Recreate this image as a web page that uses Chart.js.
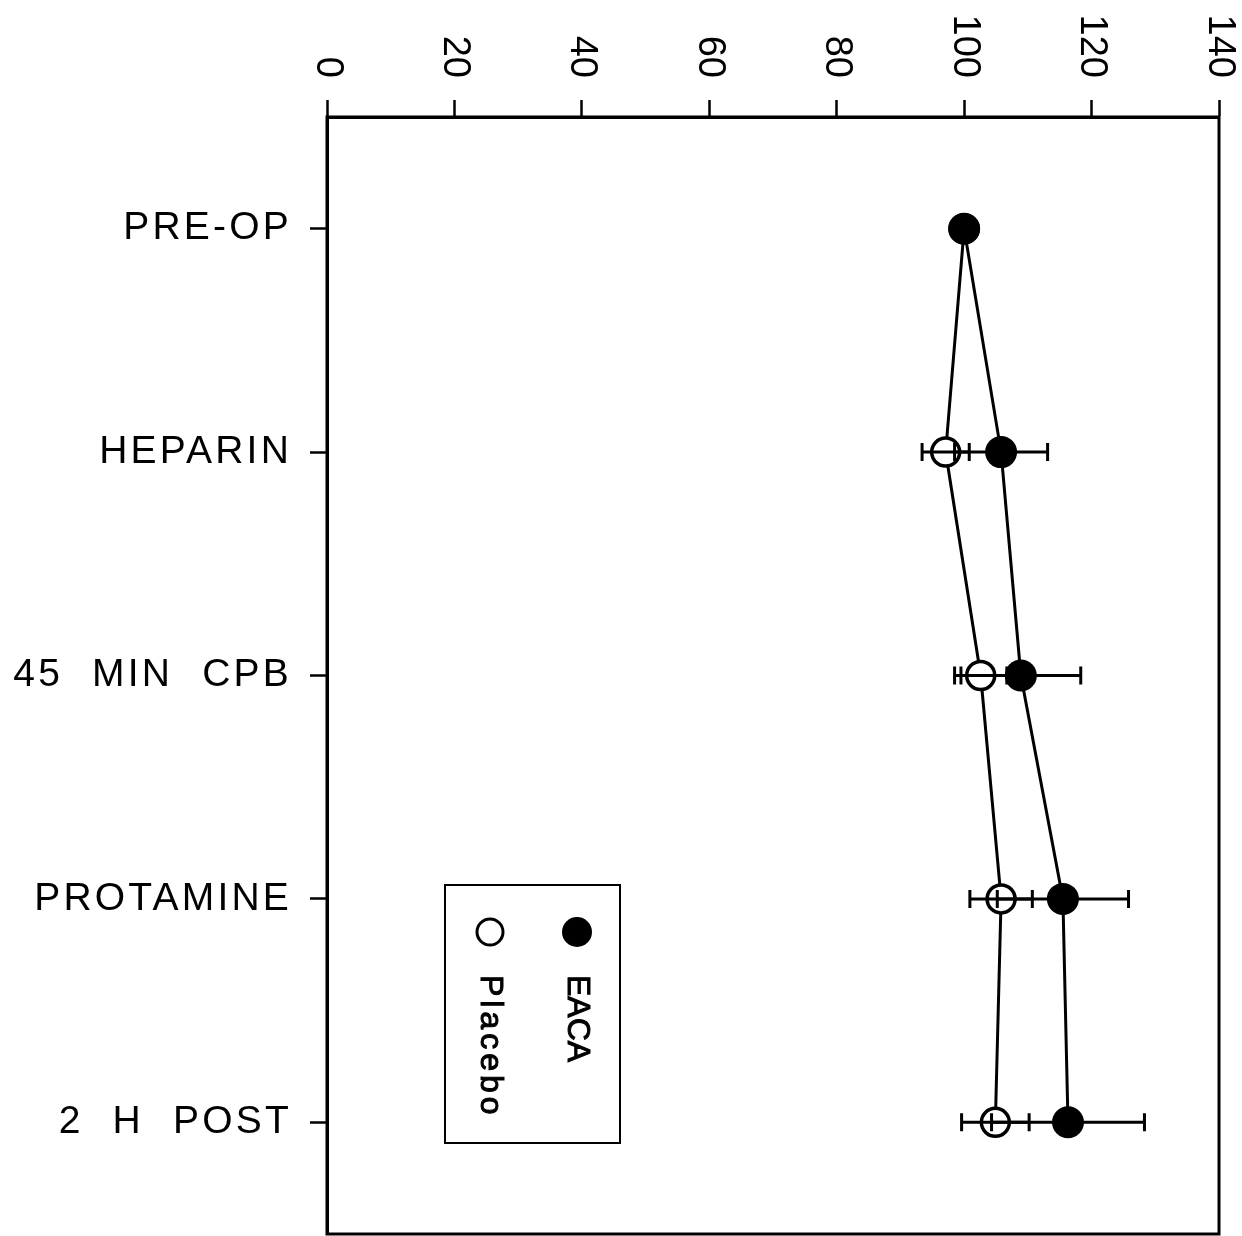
<!DOCTYPE html>
<html>
<head>
<meta charset="utf-8">
<script src="https://cdn.jsdelivr.net/npm/chart.js@4.4.1/dist/chart.umd.min.js"></script>
<style>
  body { margin: 0; background: #fff; }
  #wrap { width: 1242px; height: 1236px; }
</style>
</head>
<body>
<div id="wrap"><canvas id="grafico"></canvas></div>
<script>
// dados
const categorias = ['PRE-OP', 'HEPARIN', '45 MIN CPB', 'PROTAMINE', '2 H POST'];
const eacaMedia = [100, 105.8, 108.9, 115.5, 116.3];
const eacaErro = [0, 7.3, 9.4, 10.3, 12.0];
const placeboMedia = [100, 97.1, 102.6, 105.8, 104.9];
const placeboErro = [0, 3.7, 4.1, 4.9, 5.3];
const ticksX = [0, 20, 40, 60, 80, 100, 120, 140];

const fonte = '"Liberation Sans", Arial, sans-serif';

// barras de erro horizontais
const barrasErro = {
  id: 'barrasErro',
  afterDatasetsDraw(chart) {
    const ctx = chart.ctx;
    const x = chart.scales.x, y = chart.scales.y;
    const series = [[eacaMedia, eacaErro], [placeboMedia, placeboErro]];
    ctx.save();
    ctx.strokeStyle = '#000';
    ctx.lineWidth = 3;
    series.forEach(([media, erro]) => {
      media.forEach((m, i) => {
        if (!erro[i]) return;
        const x1 = x.getPixelForValue(m - erro[i]);
        const x2 = x.getPixelForValue(m + erro[i]);
        const py = y.getPixelForValue(i);
        ctx.beginPath();
        ctx.moveTo(x1, py); ctx.lineTo(x2, py);
        ctx.moveTo(x1, py - 9); ctx.lineTo(x1, py + 9);
        ctx.moveTo(x2, py - 9); ctx.lineTo(x2, py + 9);
        ctx.stroke();
      });
    });
    ctx.restore();
  }
};

// espaçamento das letras como no original
const espacamento = {
  id: 'espacamento',
  beforeDraw(chart) {
    chart.ctx.letterSpacing = '3.2px';
    chart.ctx.wordSpacing = '15px';
  }
};

// moldura, rótulos girados do eixo de cima e legenda
const extras = {
  id: 'extras',
  afterDraw(chart) {
    const ctx = chart.ctx;
    const a = chart.chartArea;
    const x = chart.scales.x;
    ctx.save();
    ctx.letterSpacing = '0px';
    ctx.wordSpacing = '0px';
    ctx.strokeStyle = '#000';
    ctx.lineWidth = 3;
    ctx.strokeRect(a.left, a.top, a.right - a.left, a.bottom - a.top);

    ctx.fillStyle = '#000';
    ctx.font = '38px ' + fonte;
    ticksX.forEach(v => {
      ctx.save();
      ctx.translate(x.getPixelForValue(v), 78);
      ctx.rotate(Math.PI / 2);
      ctx.textAlign = 'right';
      ctx.textBaseline = 'middle';
      ctx.fillText(String(v), 0, 0);
      ctx.restore();
    });

    // legenda
    const lx = a.left + 118, ly = a.top + 768;
    ctx.lineWidth = 2;
    ctx.strokeRect(lx, ly, 175, 258);
    ctx.beginPath();
    ctx.arc(lx + 132, ly + 47, 15, 0, Math.PI * 2);
    ctx.fill();
    ctx.beginPath();
    ctx.lineWidth = 3;
    ctx.arc(lx + 45, ly + 47, 13, 0, Math.PI * 2);
    ctx.stroke();
    ctx.font = '32px ' + fonte;
    ctx.lineWidth = 1;
    [['EACA', lx + 132, '0px'], ['Placebo', lx + 45, '4px']].forEach(([t, px, ls]) => {
      ctx.save();
      ctx.letterSpacing = ls;
      ctx.translate(px, ly + 90);
      ctx.rotate(Math.PI / 2);
      ctx.textAlign = 'left';
      ctx.textBaseline = 'middle';
      ctx.fillText(t, 0, 0);
      ctx.strokeText(t, 0, 0);
      ctx.restore();
    });
    ctx.restore();
  }
};

new Chart(document.getElementById('grafico'), {
  type: 'line',
  data: {
    labels: categorias,
    datasets: [{
      label: 'EACA',
      data: eacaMedia,
      borderColor: '#000',
      borderWidth: 3,
      pointRadius: 16,
      pointBackgroundColor: '#000',
      pointBorderColor: '#000',
      pointBorderWidth: 0
    }, {
      label: 'Placebo',
      data: placeboMedia,
      borderColor: '#000',
      borderWidth: 3,
      pointRadius: 14,
      pointBackgroundColor: '#fff',
      pointBorderColor: '#000',
      pointBorderWidth: 3.5
    }]
  },
  options: {
    indexAxis: 'y',
    responsive: true,
    maintainAspectRatio: false,
    animation: false,
    layout: { autoPadding: false, padding: { left: 0, right: 23, top: 0, bottom: 2 } },
    plugins: { legend: { display: false }, tooltip: { enabled: false } },
    scales: {
      x: {
        type: 'linear',
        position: 'top',
        min: 0,
        max: 140,
        ticks: { stepSize: 20, display: false },
        grid: { drawOnChartArea: false, tickLength: 17, tickWidth: 2.5, tickColor: '#000' },
        border: { color: '#000', width: 3 },
        afterFit(s) { s.height = 117; }
      },
      y: {
        type: 'category',
        offset: true,
        ticks: { color: '#000', padding: 18, font: { family: fonte, size: 39 } },
        grid: { drawOnChartArea: false, tickLength: 17, tickWidth: 2.5, tickColor: '#000' },
        border: { color: '#000', width: 3 },
        afterFit(s) {
          s.width = 327;
          s.paddingTop = 0;
          s.paddingBottom = 0;
        }
      }
    }
  },
  plugins: [espacamento, barrasErro, extras]
});
</script>
</body>
</html>
